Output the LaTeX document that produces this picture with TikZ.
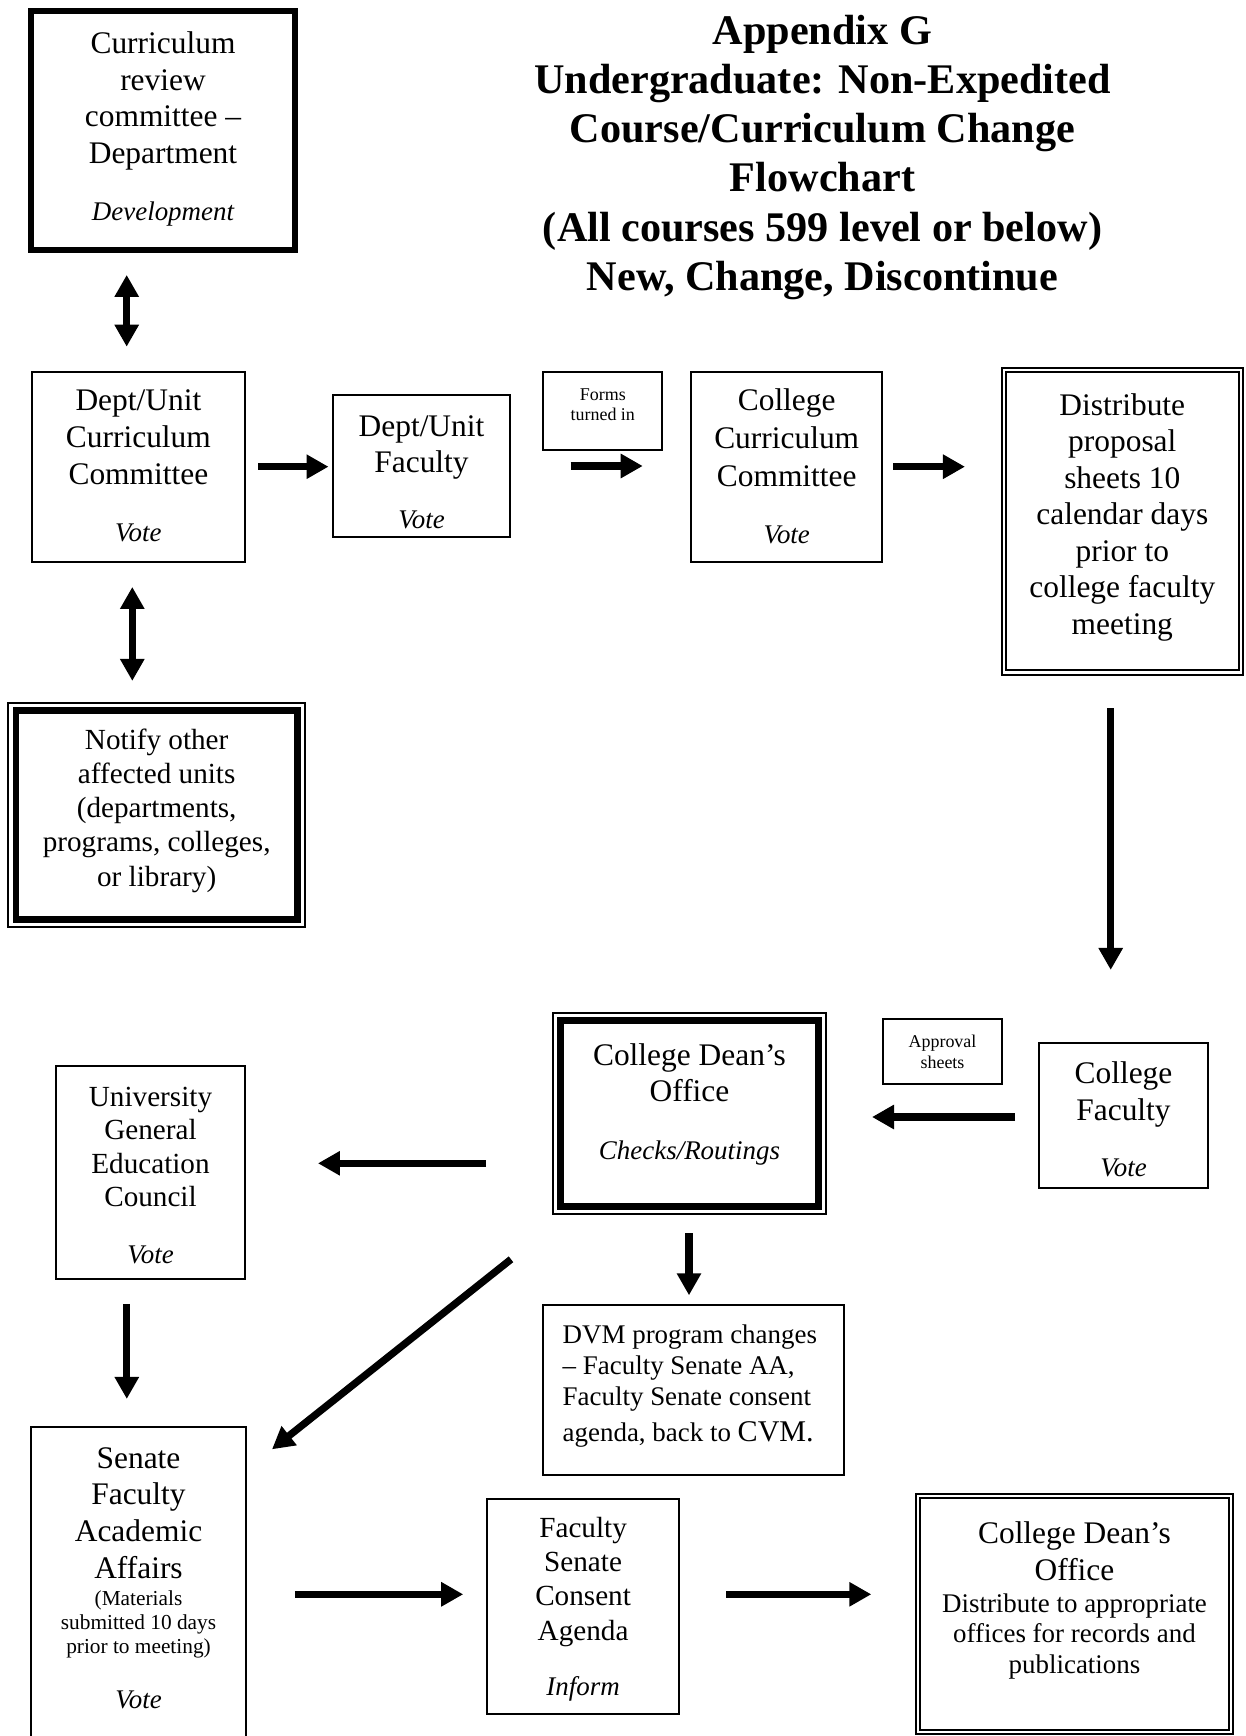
\documentclass[tikz,border=0pt]{standalone}
\usepackage{fontspec}
\setmainfont{Liberation Serif}
\usetikzlibrary{arrows.meta,fit,calc}
\newcommand{\tS}{\rule{0pt}{0.87em}}
\newcommand{\bS}{\rule[-0.22em]{0pt}{0.22em}}
\newcommand{\inbox}[1]{\draw[line width=2.94pt] ([shift={(7.7,7.7)}]#1.north west) rectangle ([shift={(-7.7,-7.7)}]#1.south east);}
\begin{document}
\begin{tikzpicture}[x=0.4455pt, y=-0.4455pt,
  box/.style={draw, line width=0.9pt, inner sep=0pt, outer sep=0pt},
  thickbox/.style={draw, line width=2.67pt, inner sep=0pt, outer sep=0pt},
  dblbox/.style={draw, double, double distance=1pt, line width=0.9pt, inner sep=0pt, outer sep=0pt},
  txt/.style={inner sep=0pt, outer sep=0pt, align=center},
  lbl/.style={inner sep=0pt, outer sep=0pt, font=\fontsize{12pt}{14pt}\selectfont\itshape},
  arr/.style={line width=3.25pt, -{Triangle[length=9.8pt,width=10.3pt]}},
  darr/.style={line width=3.25pt, {Triangle[length=9.8pt,width=10.3pt]}-{Triangle[length=9.8pt,width=10.3pt]}}
]
\useasboundingbox (0,0) rectangle (1246,1736);
\clip (0,0) rectangle (1246,1736);
\fill[white] (0,0) rectangle (1246,1736);

% ---------- title ----------
\node[txt, font=\fontsize{18.8pt}{21.94pt}\selectfont\bfseries] (title) at (822.5,153.6)
  {\tS Appendix G\\Undergraduate: Non-Expedited\\Course/Curriculum Change\\Flowchart\\(All courses 599 level or below)\\New, Change, Discontinue\bS};

% ---------- boxes ----------
\node[thickbox, fit={(31,11.3) (295,250)}] (cr) {};
\node[box, fit={(31.8,371.6) (245,561.8)}] (ducc) {};
\node[box, fit={(333,395) (510,537)}] (duf) {};
\node[box, fit={(543.2,371.6) (662.4,449.8)}] (forms) {};
\node[box, fit={(691,371.6) (882.4,561.8)}] (ccc) {};
\node[dblbox, fit={(1003.8,369.8) (1240.9,672.4)}] (dist) {};
\node[box, fit={(8.3,702.7) (305,927)}] (notify) {};
\inbox{notify}
\node[box, fit={(1038.9,1043.1) (1208.2,1187.7)}] (cf) {};
\node[box, fit={(883,1019) (1002,1084.2)}] (appr) {};
\node[box, fit={(553,1013) (826,1214)}] (dean) {};
\inbox{dean}
\node[box, fit={(56,1066) (245,1279)}] (ugec) {};
\node[box, fit={(31.4,1427.2) (245.6,1760)}] (senate) {};
\node[box, fit={(542.6,1305.4) (844.2,1475.2)}] (dvm) {};
\node[box, fit={(487,1499.2) (679.2,1714.4)}] (fsca) {};
\node[dblbox, fit={(918,1496) (1231,1732)}] (final) {};

% ---------- texts ----------
\node[txt, font=\fontsize{14pt}{16.35pt}\selectfont] (tcr) at (163,98.3)
  {\tS Curriculum\\review\\committee –\\Department\bS};
\node[lbl] (tcrl) at (163,211.7) {\tS\bS Development};

\node[txt, font=\fontsize{14pt}{16.6pt}\selectfont] (tducc) at (138.4,437.5)
  {\tS Dept/Unit\\Curriculum\\Committee\bS};
\node[lbl] (tduccl) at (138.4,533) {\tS\bS Vote};

\node[txt, font=\fontsize{14pt}{16.2pt}\selectfont] (tduf) at (421.5,444.4)
  {\tS Dept/Unit\\Faculty\bS};
\node[lbl] (tdufl) at (421.5,520) {\tS\bS Vote};

\node[txt, font=\fontsize{8pt}{8.9pt}\selectfont] (tforms) at (602.8,405)
  {\tS Forms\\turned in\bS};

\node[txt, font=\fontsize{14pt}{16.8pt}\selectfont] (tccc) at (786.7,438.3)
  {\tS College\\Curriculum\\Committee\bS};
\node[lbl] (tcccl) at (786.7,535) {\tS\bS Vote};

\node[txt, font=\fontsize{14pt}{16.28pt}\selectfont] (tdist) at (1122.3,514.6)
  {\tS Distribute\\proposal\\sheets 10\\calendar days\\prior to\\college faculty\\meeting\bS};

\node[txt, font=\fontsize{13pt}{15.2pt}\selectfont] (tnotify) at (156.7,808.3)
  {\tS Notify other\\affected units\\(departments,\\programs, colleges,\\or library)\bS};

\node[txt, font=\fontsize{14pt}{16.5pt}\selectfont] (tcf) at (1123.5,1091.7)
  {\tS College\\Faculty\bS};
\node[lbl] (tcfl) at (1123.5,1167.4) {\tS\bS Vote};

\node[txt, font=\fontsize{8pt}{9.35pt}\selectfont] (tappr) at (942.5,1052.2)
  {\tS Approval\\sheets\bS};

\node[txt, font=\fontsize{14pt}{16pt}\selectfont] (tdean) at (689.5,1073)
  {\tS College Dean’s\\Office\bS};
\node[lbl] (tdeanl) at (689.5,1150.3) {\tS\bS Checks/Routings};

\node[txt, font=\fontsize{13pt}{14.9pt}\selectfont] (tugec) at (150.5,1146.9)
  {\tS University\\General\\Education\\Council\bS};
\node[lbl] (tugecl) at (150.5,1255) {\tS\bS Vote};

\node[txt, font=\fontsize{14pt}{16.35pt}\selectfont] (tsen) at (138.5,1512.9)
  {\tS Senate\\Faculty\\Academic\\Affairs\bS};
\node[txt, font=\fontsize{9.5pt}{10.7pt}\selectfont] (tsenm) at (138.5,1622.9)
  {\tS (Materials\\submitted 10 days\\prior to meeting)\bS};
\node[lbl] (tsenl) at (138.5,1699.9) {\tS\bS Vote};

\node[txt, align=left, anchor=west, font=\fontsize{12pt}{13.87pt}\selectfont] (tdvm) at (562.7,1383.5)
  {\tS DVM program changes\\– Faculty Senate AA,\\Faculty Senate consent\\[2.15pt]agenda, back to {\fontsize{13.4pt}{15pt}\selectfont CVM.}\bS};

\node[txt, font=\fontsize{13pt}{15.2pt}\selectfont] (tfsca) at (583.1,1579.4)
  {\tS Faculty\\Senate\\Consent\\Agenda\bS};
\node[lbl] (tfscal) at (583.1,1686.4) {\tS\bS Inform};

\node[txt, font=\fontsize{14pt}{16.3pt}\selectfont] (tfin1) at (1074.5,1551.7)
  {\tS College Dean’s\\Office\bS};
\node[txt, font=\fontsize{12pt}{13.6pt}\selectfont] (tfin2) at (1074.5,1633.8)
  {\tS Distribute to appropriate\\offices for records and\\publications\bS};

% ---------- connectors ----------
\draw[darr, shorten <=11.1pt, shorten >=11.1pt] (cr.south -| 126.7,0) -- (ducc.north -| 126.7,0);
\draw[darr, shorten <=11.2pt, shorten >=9.7pt] (ducc.south -| 132.3,0) -- (notify.north -| 132.3,0);
\draw[arr, shorten <=5.8pt, shorten >=2pt] (ducc.east) -- (ducc.east -| duf.west);
\draw[arr, shorten <=27pt, shorten >=21.5pt] (duf.east) -- (duf.east -| ccc.west);
\draw[arr, shorten <=4.86pt, shorten >=17.3pt] (ccc.east) -- (ccc.east -| dist.west);
\draw[arr, shorten <=16pt, shorten >=32.6pt] (dist.south -| 1110.7,0) -- (cf.north -| 1110.7,0);
\draw[arr, shorten <=10.65pt, shorten >=20.5pt] (cf.west |- 0,1117) -- (dean.east |- 0,1117);
\draw[arr, shorten <=29.8pt, shorten >=32.5pt] (dean.west |- 0,1163.3) -- (ugec.east |- 0,1163.3);
\draw[arr, shorten <=11.1pt, shorten >=12.6pt] (ugec.south -| 126.8,0) -- (senate.north -| 126.8,0);
\coordinate (dg1) at (511,1259.3);
\coordinate (dg2) at (272,1449.3);
\draw[arr] (dg1) -- (dg2);
\draw[arr, shorten <=8.6pt, shorten >=4.5pt] (dean.south -| 689,0) -- (dvm.north -| 689,0);
\draw[arr, shorten <=22pt, shorten >=10.6pt] (senate.east |- 0,1594.3) -- (fsca.west |- 0,1594.3);
\draw[arr, shorten <=20.9pt, shorten >=20.8pt] (fsca.east |- 0,1594.3) -- (final.west |- 0,1594.3);
\end{tikzpicture}
\end{document}
